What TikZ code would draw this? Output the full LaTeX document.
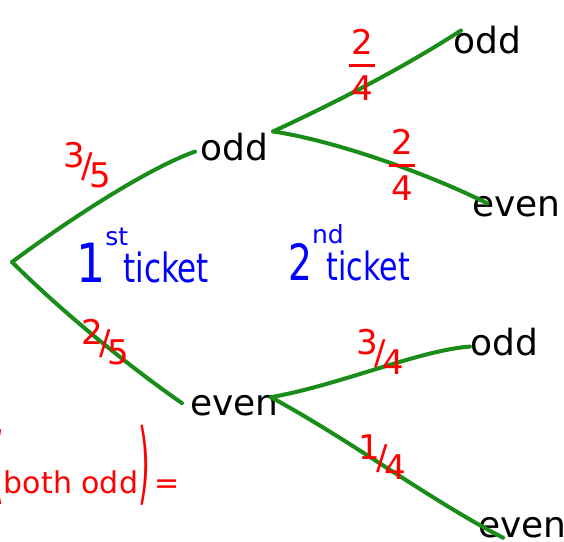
\documentclass[tikz,border=0pt]{standalone}
\usepackage{fontspec}
\usepackage{amsmath}
\setmainfont{DejaVu Sans}
\definecolor{pgreen}{RGB}{25,140,25}
\definecolor{pred}{RGB}{255,0,0}
\definecolor{pblue}{RGB}{0,0,255}
\newcommand{\dfr}[2]{\raisebox{0.3em}{#1}\kern-0.1em/\kern-0.1em\raisebox{-0.3em}{#2}}
\newcommand{\stk}[2]{$\genfrac{}{}{3pt}{0}{\mbox{\kern2pt#1\kern2pt}}{\mbox{#2}}$}
\tikzset{
  word/.style={inner sep=0pt, anchor=base west, text=black, font=\fontsize{36}{36}\selectfont},
  prob/.style={inner sep=0pt, text=pred, font=\fontsize{34}{34}\selectfont},
  branch/.style={draw=pgreen, line width=4pt, line cap=round, line join=round},
  note/.style={inner sep=0pt, anchor=base west, text=pblue},
}
\begin{document}
\begin{tikzpicture}[x=1pt,y=-1pt]
\useasboundingbox (0,0) rectangle (564,541);
\clip (0,0) rectangle (564,541);
% nodes
\coordinate (r) at (12,262);
\node[word] (o1) at (200,160) {odd};
\node[word] (e1) at (190,415) {even};
\node[word] (o2) at (453,53) {odd};
\node[word] (e2) at (472,216) {even};
\node[word] (o3) at (470,355) {odd};
\node[word] (e3) at (478,537) {even};
% branches
\draw[branch] (r) .. controls +(70,-52) and +(-40,14) .. ([shift={(-5,5)}]o1.west);
\draw[branch] (r) .. controls (55,305) and (120,360) .. ([shift={(-8,-2)}]e1.west);
\draw[branch] ([shift={(5,-1)}]o1.north east) .. controls (330,105) and (400,70) .. ([shift={(8,5)}]o2.north west);
\draw[branch] ([shift={(5,-1)}]o1.north east) .. controls (330,140) and (420,170) .. ([shift={(15,-3)}]e2.west);
\draw[branch] ([shift={(-8,-8)}]e1.east) .. controls (340,385) and (420,350) .. ([shift={(0,5)}]o3.west);
\draw[branch] ([shift={(-8,-8)}]e1.east) .. controls (350,440) and (430,500) .. ([shift={(25,0)}]e3.south west);
% probabilities
\node[prob] (p35) at (87,165) {\dfr{3}{5}};
\node[prob] (p25) at (105,342) {\dfr{2}{5}};
\node[prob] (p24a) at (362,65) {\stk{2}{4}};
\node[prob] (p24b) at (402,165) {\stk{2}{4}};
\node[prob] (p34) at (380,352) {\dfr{3}{4}};
\node[prob] (p14) at (382,457) {\dfr{1}{4}};
% ticket labels
\node[note] (t1) at (76,282) {{\fontsize{54}{54}\selectfont\scalebox{0.85}[1]{1}}\raisebox{37pt}{\fontsize{25}{25}\selectfont st}\kern-5pt{\fontsize{31}{31}\selectfont\scalebox{1}[1.3]{ticket}}};
\node[note] (t2) at (288,280) {{\fontsize{50}{50}\selectfont\scalebox{0.75}[1]{2}}\raisebox{37pt}{\fontsize{25}{25}\selectfont nd}\kern-17pt{\fontsize{30}{30}\selectfont\scalebox{1}[1.3]{ticket}}};
% question
\node[inner sep=0pt, anchor=base west, text=pred, font=\fontsize{30}{30}\selectfont] (q) at (-8,493)
  {\scalebox{1}[2.8]{(}both odd\scalebox{1}[3]{)}\,=};
\end{tikzpicture}
\end{document}
